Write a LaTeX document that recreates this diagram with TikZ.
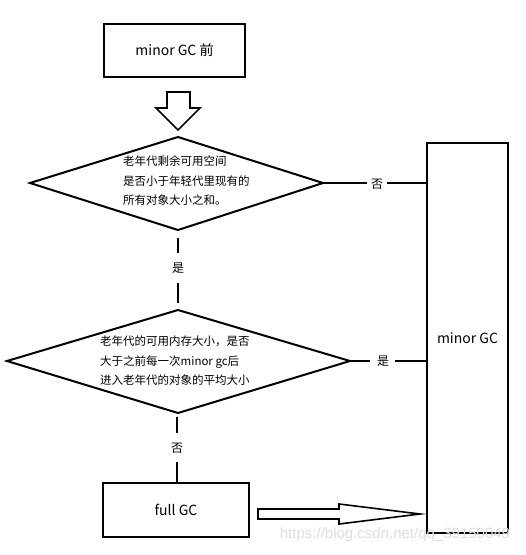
\documentclass[tikz,border=0pt]{standalone}
\usepackage{fontspec}
\setmainfont{Noto Sans CJK SC}
\newfontfamily\wmfont{Liberation Sans}
\begin{document}
\begin{tikzpicture}[x=1pt,y=-1pt,
  box/.style={draw,line width=2pt,inner sep=0pt},
  ln/.style={line width=2pt},
  dtext/.style={align=left,font=\fontsize{11.5}{19.5}\selectfont,inner sep=0pt,anchor=north west},
  lbl/.style={font=\fontsize{12}{14}\selectfont,inner sep=0pt}]
\useasboundingbox (0,0) rectangle (526,555);
\fill[white] (0,0) rectangle (526,555);
% top box
\node[box,minimum width=141pt,minimum height=53pt,font=\fontsize{14}{16}\selectfont] (pre) at (174.5,50.5) {minor GC 前};
% hollow down arrow
\draw[line width=1.6pt,line join=miter] (167,92) -- (190,92) -- (190,108) -- (200,108) -- (178,130) -- (156,108) -- (167,108) -- cycle;
% diamond 1
\coordinate (d1l) at (30,183);
\coordinate (d1t) at (178,137);
\coordinate (d1r) at (323,183);
\coordinate (d1b) at (178,230);
\draw[ln,line join=miter] (d1l) -- (d1t) -- (d1r) -- (d1b) -- cycle;
\node[dtext] (t1) at (123,156) {老年代剩余可用空间\\是否小于年轻代里现有的\\所有对象大小之和。};
% diamond 2
\coordinate (d2l) at (7,361);
\coordinate (d2t) at (178,310);
\coordinate (d2r) at (350,361);
\coordinate (d2b) at (178,413);
\draw[ln,line join=miter] (d2l) -- (d2t) -- (d2r) -- (d2b) -- cycle;
\node[dtext] (t2) at (100,336) {老年代的可用内存大小，是否\\大于之前每一次minor gc后\\进入老年代的对象的平均大小};
% minor GC box
\node[box,minimum width=81pt,minimum height=390pt,font=\fontsize{14}{16}\selectfont] (mgc) at (467.5,338) {minor GC};
% full GC box
\node[box,minimum width=146pt,minimum height=54pt,font=\fontsize{14}{16}\selectfont] (full) at (176,510) {full GC};
% connectors
\node[lbl] (no1) at (377,184) {否};
\draw[ln] (d1r) -- (367,183);
\draw[ln] (387,183) -- (mgc.west |- d1r);
\node[lbl] (yes2) at (383,361) {是};
\draw[ln] (d2r) -- (370,361);
\draw[ln] (395,361) -- (mgc.west |- d2r);
\node[lbl] (yes1) at (178,268) {是};
\draw[ln] (178,238) -- (178,253);
\draw[ln] (178,283) -- (178,303);
\node[lbl] (no2) at (177,448) {否};
\draw[ln] (177,417) -- (177,433);
\draw[ln] (177,462) -- (full.north -| 177,0);
% hollow right arrow
\draw[line width=1.6pt,line join=miter] (258,509) -- (339,509) -- (339,504) -- (420,514) -- (339,524) -- (339,519) -- (258,519) -- cycle;
% watermark
\node[font=\wmfont\fontsize{15}{17}\selectfont,text=black!13,inner sep=0pt] (wm) at (395,535) {https://blog.csdn.net/qq\_39150049};
\end{tikzpicture}
\end{document}
